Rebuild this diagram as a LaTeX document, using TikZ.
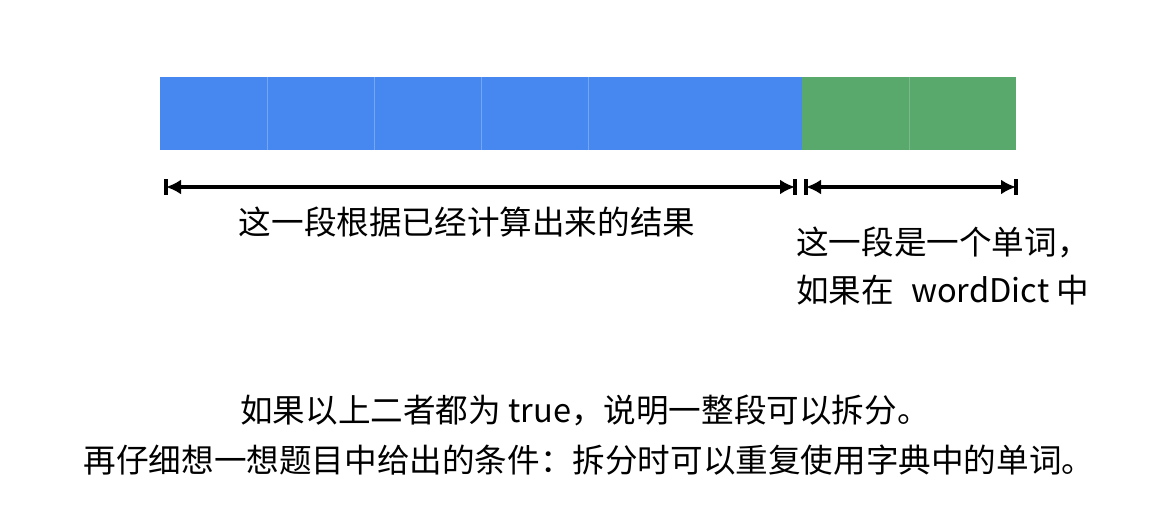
\documentclass[tikz,border=0pt]{standalone}
\usepackage{fontspec}
\setmainfont{Noto Sans CJK SC}
\usetikzlibrary{arrows.meta}
\begin{document}
\begin{tikzpicture}[x=1pt,y=-1pt,
  txt/.style={font=\fontsize{32.6}{38}\selectfont,inner sep=0pt},
  dim/.style={line width=3.4pt,{Latex[length=15pt,width=15pt]}-{Latex[length=15pt,width=15pt]}},
  barline/.style={line width=3.4pt}]
\definecolor{blue1}{HTML}{4688F0}
\definecolor{green1}{HTML}{59A86C}
\useasboundingbox (0,0) rectangle (1170,518);
% bar
\fill[blue1] (160,77) rectangle (802,150);
\fill[green1] (802,77) rectangle (1016,150);
\foreach \x in {267,374,481,588}{\draw[white!25!blue1,line width=1pt] (\x,77) -- (\x,150);}
\draw[white!20!green1,line width=1pt] (909,77) -- (909,150);
% dimension lines
\coordinate (a1) at (166,187);
\coordinate (a2) at (795,187);
\coordinate (b1) at (806,187);
\coordinate (b2) at (1016,187);
\draw[dim] (a1) -- (a2);
\draw[dim] (b1) -- (b2);
\foreach \c in {a1,a2,b1,b2}{\draw[barline] ([yshift=-8pt]\c) -- ([yshift=8pt]\c);}
% labels
\node[txt] (t1) at (467,222) {这一段根据已经计算出来的结果};
\node[txt,anchor=west] (t2) at (796,242) {这一段是一个单词，};
\node[txt,anchor=west] (t3) at (796,290) {如果在\hspace{0.3em} wordDict 中};
\node[txt] (t4) at (585,410) {如果以上二者都为 true，说明一整段可以拆分。};
\node[txt] (t5) at (589,460) {再仔细想一想题目中给出的条件：拆分时可以重复使用字典中的单词。};
\end{tikzpicture}
\end{document}
